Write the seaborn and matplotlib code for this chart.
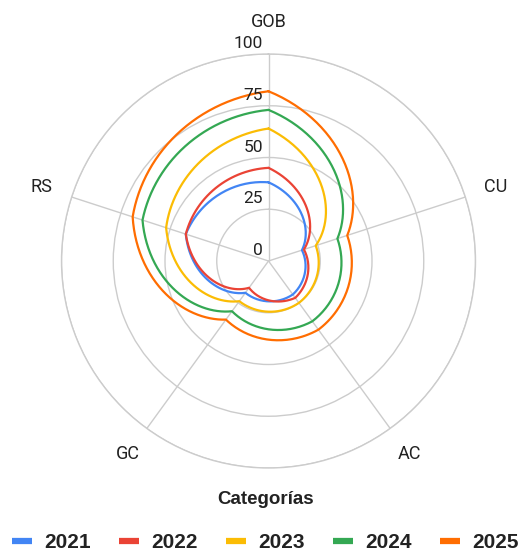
import numpy as np
import pandas as pd
import matplotlib
matplotlib.use("Agg")
import matplotlib.pyplot as plt
import seaborn as sns
from matplotlib.lines import Line2D

# ---- data ----
categories = ["GOB", "CU", "AC", "GC", "RS"]
years = ["2021", "2022", "2023", "2024", "2025"]
v2021 = [38, 17, 20, 19, 42]
v2022 = [45, 18, 22, 16, 42]
v2023 = [64, 24, 25, 24, 52]
v2024 = [73, 35, 36, 30, 64]
v2025 = [82, 40, 41, 35, 69]
radial_ticks = [0, 25, 50, 75, 100]
colors = ["#4285F4", "#EA4335", "#FBBC04", "#34A853", "#FF6D01"]
legend_title = "Categorías"

sns.set_theme(style="white")
plt.rcParams["font.family"] = ["Roboto", "DejaVu Sans"]

series = [v2021, v2022, v2023, v2024, v2025]
n = len(categories)
angles = np.linspace(0, 2 * np.pi, n, endpoint=False)

rows = []
for yr, vals in zip(years, series):
    th = list(angles) + [2 * np.pi]
    closed = list(vals) + [vals[0]]
    for t, v in zip(th, closed):
        rows.append({"theta": t, "value": v, "year": yr})
df = pd.DataFrame(rows)

fig = plt.figure(figsize=(5.31, 5.51), dpi=100)
cx, cy, R = 268.5, 261.0, 207.0
W, H = 531.0, 551.0
ax = fig.add_axes([(cx - R) / W, (H - cy - R) / H, 2 * R / W, 2 * R / H],
                  projection="polar")
ax.set_theta_zero_location("N")
ax.set_theta_direction(-1)

sns.lineplot(data=df, x="theta", y="value", hue="year", palette=colors,
             sort=False, estimator=None, linewidth=1.6, ax=ax, legend=False)

# draw the segments as polar curves (r linear in angle), like the reference
for ln in ax.lines:
    ln.get_path()._interpolation_steps = 60
    ln.set_solid_joinstyle("round")

ax.set_ylim(0, 100)
ax.set_yticks(radial_ticks[1:])
ax.set_yticklabels([])
ax.set_xticks(angles)
ax.set_xticklabels([])
ax.set_xlabel("")
ax.set_ylabel("")
ax.grid(True, color="#cccccc", linewidth=1.0)
ax.spines["polar"].set_color("#cccccc")
ax.spines["polar"].set_linewidth(1.0)
ax.set_facecolor("white")

# radial labels along the GOB spoke
for r in radial_ticks:
    ax.annotate(str(r), xy=(0, r), xytext=(-5.5, 6), textcoords="offset pixels",
                ha="right", va="baseline", fontsize=12.5, color="#222222",
                annotation_clip=False)

# category labels
for th, lab in zip(angles, categories):
    ax.text(th, 115.5, lab, ha="center", va="center", fontsize=13,
            color="#222222", clip_on=False)

# legend title and legend
fig.text(0.5, 1 - 500 / H, legend_title, ha="center", va="center",
         fontsize=13.5, fontweight="bold", color="#222222",
         family=["Liberation Sans", "DejaVu Sans"])

handles = [Line2D([0], [0], color=c, lw=4.5, solid_capstyle="butt") for c in colors]
fig.legend(handles, years, loc="center", bbox_to_anchor=(0.5, 1 - 543 / H),
           ncol=5, frameon=False, borderpad=0, borderaxespad=0,
           handlelength=0.95, handletextpad=0.62, columnspacing=1.33,
           prop={"family": ["Liberation Sans", "DejaVu Sans"], "weight": "bold", "size": 15},
           labelcolor="#222222")

fig.savefig("out.png", dpi=100, facecolor="white")
